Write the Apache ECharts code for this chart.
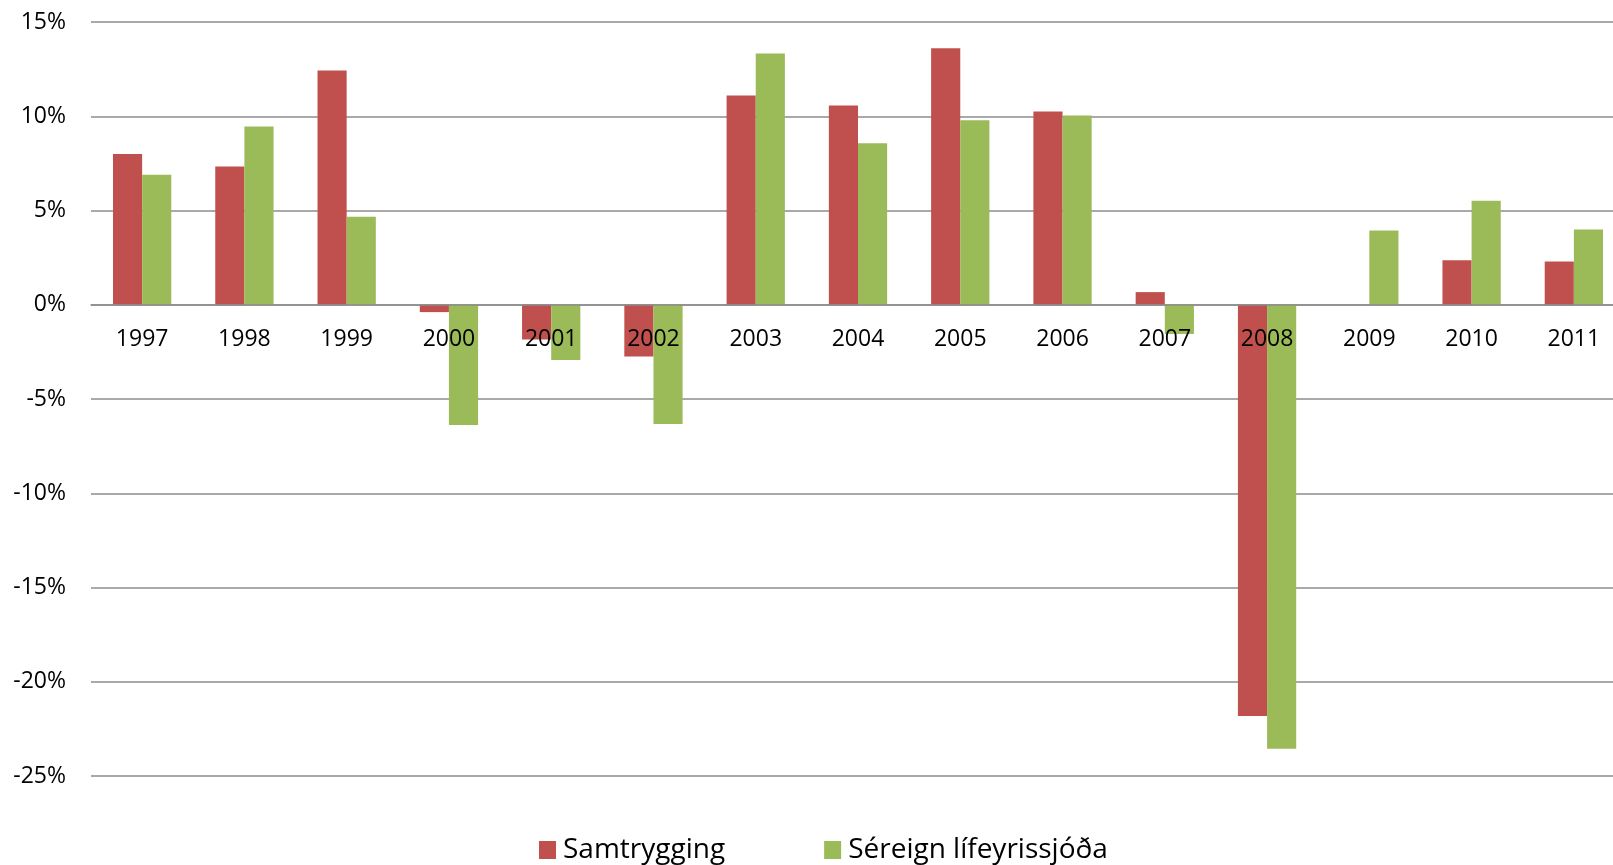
<!DOCTYPE html>
<html>
<head>
<meta charset="utf-8">
<script src="https://cdn.jsdelivr.net/npm/echarts@6/dist/echarts.min.js"></script>
<style>
    html, body { margin: 0; padding: 0; background: #fff; overflow: hidden; }
    /* plot area runs slightly past the right edge of the window, as in the original */
    #chart { width: 1625px; height: 865px; }
</style>
</head>
<body>
<div id="chart"></div>
<script>

// Data
// ------------------------------

var years = ['1997', '1998', '1999', '2000', '2001', '2002', '2003', '2004', '2005', '2006', '2007', '2008', '2009', '2010', '2011'];
var samtrygging = [8.0, 7.34, 12.43, -0.39, -1.84, -2.74, 11.1, 10.57, 13.61, 10.25, 0.67, -21.82, 0, 2.36, 2.3];
var sereign = [6.9, 9.46, 4.67, -6.38, -2.93, -6.33, 13.33, 8.57, 9.79, 10.04, -1.55, -23.56, 3.94, 5.52, 3.99];
var seriesNames = ['Samtrygging', 'Séreign lífeyrissjóða'];
var yMin = -25, yMax = 15;


// Chart
// ------------------------------

var chart_element = document.getElementById('chart');
var chart = echarts.init(chart_element, null, { renderer: 'canvas' });

// Grid geometry, used to lift the category axis up to the zero line
var gridTop = 22, gridBottom = 89;
var plotHeight = 865 - gridTop - gridBottom;
var zeroOffset = -plotHeight * (0 - yMin) / (yMax - yMin);

chart.setOption({

    animation: false,

    // Global text styles
    textStyle: {
        fontFamily: '"Open Sans", sans-serif',
        color: '#000'
    },

    color: ['#C0504D', '#9BBB59'],

    // Setup grid
    grid: {
        left: 91,
        right: 0,
        top: gridTop,
        bottom: gridBottom
    },

    // Legend
    legend: {
        data: seriesNames,
        top: 831,
        left: 534,
        itemWidth: 17,
        itemHeight: 18,
        itemGap: 99,
        icon: 'rect',
        textStyle: {
            fontSize: 28,
            color: '#000',
            padding: [0, 0, 0, 2]
        }
    },

    // Horizontal axis
    xAxis: {
        type: 'category',
        data: years,
        z: 5,
        offset: zeroOffset,
        axisTick: { show: false },
        axisLine: {
            show: true,
            onZero: false,
            lineStyle: { color: '#8c8c8c', width: 1.5 }
        },
        axisLabel: {
            margin: 23,
            fontSize: 23,
            color: '#000'
        }
    },

    // Vertical axis
    yAxis: {
        type: 'value',
        min: yMin,
        max: yMax,
        interval: 5,
        axisLine: { show: false },
        axisTick: { show: false },
        axisLabel: {
            margin: 25,
            fontSize: 23,
            color: '#000',
            formatter: '{value}%'
        },
        splitLine: {
            show: true,
            lineStyle: { color: '#8c8c8c', width: 1.5 }
        }
    },

    // Add series
    series: [
        {
            name: seriesNames[0],
            type: 'bar',
            barGap: '0%',
            barCategoryGap: '43%',
            data: samtrygging
        },
        {
            name: seriesNames[1],
            type: 'bar',
            barGap: '0%',
            barCategoryGap: '43%',
            data: sereign
        }
    ]
});

</script>
</body>
</html>
